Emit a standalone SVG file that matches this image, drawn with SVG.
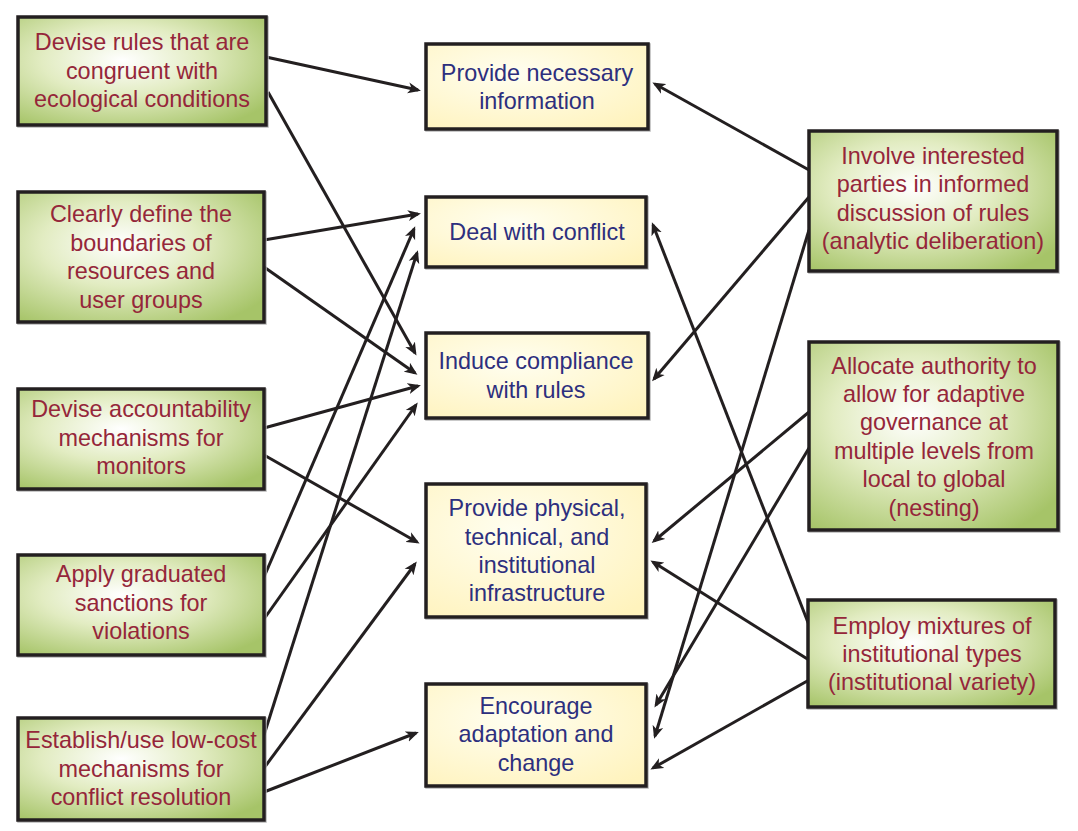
<svg xmlns="http://www.w3.org/2000/svg" width="1078" height="831" viewBox="0 0 1078 831">
<defs>
<radialGradient id="gGreen" cx="0.42" cy="0.4" r="0.72">
<stop offset="0" stop-color="#ffffff"/>
<stop offset="0.45" stop-color="#e2ecc2"/>
<stop offset="1" stop-color="#a6c468"/>
</radialGradient>
<radialGradient id="gYellow" cx="0.4" cy="0.35" r="0.8">
<stop offset="0" stop-color="#fffef0"/>
<stop offset="1" stop-color="#fff3bd"/>
</radialGradient>
<marker id="arr" markerUnits="userSpaceOnUse" markerWidth="14" markerHeight="12" viewBox="0 0 14 12" refX="10" refY="6" orient="auto">
<path d="M0,0.5 L13,6 L0,11.5 L3.5,6 Z" fill="#231f20"/>
</marker>
<style>
.g rect.b{fill:url(#gGreen);stroke:#231f20;stroke-width:3.5}
.y rect.b{fill:url(#gYellow);stroke:#231f20;stroke-width:3.5}
rect.s{fill:none;stroke:#b8b8b8;stroke-width:1.5}
text{font-family:"Liberation Sans",Arial,sans-serif;font-size:23.4px;text-anchor:middle}
.g text{fill:#95263a}
.y text{fill:#2d2f7e}
#connectors line{stroke:#231f20;stroke-width:3;marker-end:url(#arr)}
</style>
</defs>
<rect width="1078" height="831" fill="#ffffff"/>

<g id="connectors">
<line x1="266" y1="57" x2="418" y2="90"/>
<line x1="268" y1="92" x2="415" y2="353"/>
<line x1="264" y1="240" x2="418" y2="214"/>
<line x1="264" y1="267" x2="415" y2="373"/>
<line x1="264" y1="428" x2="418" y2="386"/>
<line x1="264" y1="455" x2="417" y2="542"/>
<line x1="264" y1="577" x2="414" y2="229"/>
<line x1="264" y1="619" x2="416" y2="405"/>
<line x1="264" y1="735" x2="417" y2="253"/>
<line x1="264" y1="768" x2="415" y2="564"/>
<line x1="264" y1="792" x2="416" y2="733"/>
<line x1="809" y1="170" x2="655" y2="84"/>
<line x1="809" y1="197" x2="654" y2="379"/>
<line x1="809" y1="230" x2="655" y2="736"/>
<line x1="809" y1="412" x2="654" y2="541"/>
<line x1="809" y1="448" x2="656" y2="705"/>
<line x1="809" y1="625" x2="653" y2="225"/>
<line x1="809" y1="660" x2="653" y2="562"/>
<line x1="809" y1="680" x2="653" y2="768"/>
</g>

<g id="n-devise-rules" class="g">
<rect class="s" x="18" y="17" width="250" height="110"/>
<rect class="b" x="18" y="17" width="248" height="108"/>
<text x="142" y="50">Devise rules that are</text>
<text x="142" y="79">congruent with</text>
<text x="142" y="107">ecological conditions</text>
</g>
<g id="n-boundaries" class="g">
<rect class="s" x="18" y="192" width="248" height="132"/>
<rect class="b" x="18" y="192" width="246" height="130"/>
<text x="141" y="222">Clearly define the</text>
<text x="141" y="251">boundaries of</text>
<text x="141" y="279">resources and</text>
<text x="141" y="308">user groups</text>
</g>
<g id="n-accountability" class="g">
<rect class="s" x="18" y="389" width="248" height="102"/>
<rect class="b" x="18" y="389" width="246" height="100"/>
<text x="141" y="417">Devise accountability</text>
<text x="141" y="446">mechanisms for</text>
<text x="141" y="474">monitors</text>
</g>
<g id="n-sanctions" class="g">
<rect class="s" x="18" y="555" width="248" height="102"/>
<rect class="b" x="18" y="555" width="246" height="100"/>
<text x="141" y="582">Apply graduated</text>
<text x="141" y="611">sanctions for</text>
<text x="141" y="639">violations</text>
</g>
<g id="n-conflict-resolution" class="g">
<rect class="s" x="18" y="718" width="248" height="104"/>
<rect class="b" x="18" y="718" width="246" height="102"/>
<text x="141" y="748">Establish/use low-cost</text>
<text x="141" y="777">mechanisms for</text>
<text x="141" y="805">conflict resolution</text>
</g>

<g id="n-information" class="y">
<rect class="s" x="426" y="44" width="224" height="87"/>
<rect class="b" x="426" y="44" width="222" height="85"/>
<text x="537" y="81">Provide necessary</text>
<text x="537" y="109">information</text>
</g>
<g id="n-deal-conflict" class="y">
<rect class="s" x="426" y="197" width="222" height="72"/>
<rect class="b" x="426" y="197" width="220" height="70"/>
<text x="537" y="240">Deal with conflict</text>
</g>
<g id="n-compliance" class="y">
<rect class="s" x="426" y="333" width="224" height="87"/>
<rect class="b" x="426" y="333" width="222" height="85"/>
<text x="536" y="369">Induce compliance</text>
<text x="536" y="398">with rules</text>
</g>
<g id="n-infrastructure" class="y">
<rect class="s" x="426" y="484" width="222" height="135"/>
<rect class="b" x="426" y="484" width="220" height="133"/>
<text x="537" y="516">Provide physical,</text>
<text x="537" y="545">technical, and</text>
<text x="537" y="573">institutional</text>
<text x="537" y="601">infrastructure</text>
</g>
<g id="n-adaptation" class="y">
<rect class="s" x="426" y="684" width="222" height="104"/>
<rect class="b" x="426" y="684" width="220" height="102"/>
<text x="536" y="714">Encourage</text>
<text x="536" y="742">adaptation and</text>
<text x="536" y="771">change</text>
</g>

<g id="n-involve" class="g">
<rect class="s" x="809" y="131" width="250" height="142"/>
<rect class="b" x="809" y="131" width="248" height="140"/>
<text x="933" y="164">Involve interested</text>
<text x="933" y="192">parties in informed</text>
<text x="933" y="221">discussion of rules</text>
<text x="933" y="249">(analytic deliberation)</text>
</g>
<g id="n-allocate" class="g">
<rect class="s" x="809" y="342" width="251" height="190"/>
<rect class="b" x="809" y="342" width="249" height="188"/>
<text x="934" y="374">Allocate authority to</text>
<text x="934" y="402">allow for adaptive</text>
<text x="934" y="430">governance at</text>
<text x="934" y="459">multiple levels from</text>
<text x="934" y="487">local to global</text>
<text x="934" y="516">(nesting)</text>
</g>
<g id="n-employ" class="g">
<rect class="s" x="808" y="600" width="249" height="109"/>
<rect class="b" x="808" y="600" width="247" height="107"/>
<text x="932" y="634">Employ mixtures of</text>
<text x="932" y="662">institutional types</text>
<text x="932" y="690">(institutional variety)</text>
</g>
</svg>
